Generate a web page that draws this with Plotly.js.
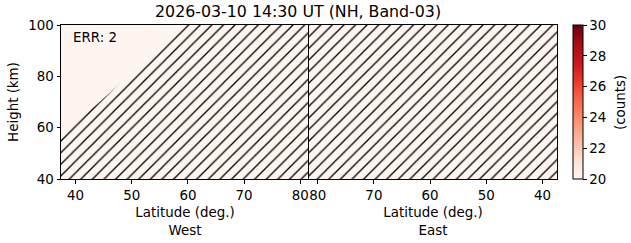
<!DOCTYPE html>
<html>
<head>
<meta charset="utf-8">
<script src="https://cdn.plot.ly/plotly-3.0.1.min.js"></script>
<style>html,body{margin:0;padding:0;background:#fff;} #plot{width:631px;height:243px;}</style>
</head>
<body>
<div id="plot"></div>
<script>
// ---- data ----
var titleText = "2026-03-10 14:30 UT (NH, Band-03)";
var latRange = [37.4, 81.55];
var heightRange = [40, 100];
var latTicks = [40, 50, 60, 70, 80];
var heightTicks = [40, 60, 80, 100];
var cbarTicks = [20, 22, 24, 26, 28, 30];
var cbarRange = [20, 30];
var cbarTitle = '(counts)';
// counts field (uniform minimum values)
var gridLat = [37.4, 81.55];
var gridHeight = [40, 100];
var westCounts = [[20, 20], [20, 20]];
var eastCounts = [[20, 20], [20, 20]];
// edge of the valid-data region in the West panel (hatched below/right)
var westEdgeLat = [37.4, 44.0, 52.0, 59.6];
var westEdgeHeight = [58.0, 69.5, 85.0, 100.0];
var errCount = 2;

var redsScale = [
  [0.0, '#fff5f0'], [0.125, '#fee0d2'], [0.25, '#fcbba1'], [0.375, '#fc9272'],
  [0.5, '#fb6a4a'], [0.625, '#ef3b2c'], [0.75, '#cb181d'], [0.875, '#a50f15'], [1.0, '#67000d']
];

// build hatched polygons
var westHatchX = [latRange[0]].concat(westEdgeLat, [latRange[1], latRange[1], latRange[0]]);
var westHatchY = [heightRange[0]].concat(westEdgeHeight, [heightRange[1], heightRange[0], heightRange[0]]);
var eastHatchX = [latRange[0], latRange[1], latRange[1], latRange[0], latRange[0]];
var eastHatchY = [heightRange[0], heightRange[0], heightRange[1], heightRange[1], heightRange[0]];

var FONT = 'DejaVu Sans, sans-serif';
var FS = 13.4;

var hatch = {shape: '/', fgcolor: 'black', fgopacity: 1, bgcolor: 'rgba(0,0,0,0)', size: 8.2, solidity: 0.16, fillmode: 'overlay'};

var traces = [
  {type: 'heatmap', x: gridLat, y: gridHeight, z: westCounts, xaxis: 'x', yaxis: 'y',
   colorscale: redsScale, zmin: cbarRange[0], zmax: cbarRange[1], hoverinfo: 'skip',
   colorbar: {x: 1.032, xanchor: 'left', xpad: 0, y: 0.5, yanchor: 'middle', len: 1, lenmode: 'fraction',
     ypad: 0, thickness: 10, outlinewidth: 1, outlinecolor: 'black',
     ticks: 'outside', ticklen: 3.5, tickwidth: 1, tickcolor: 'black',
     tickvals: cbarTicks, tickfont: {family: FONT, size: FS, color: 'black'}}},
  {type: 'heatmap', x: gridLat, y: gridHeight, z: eastCounts, xaxis: 'x2', yaxis: 'y2',
   colorscale: redsScale, zmin: cbarRange[0], zmax: cbarRange[1], showscale: false, hoverinfo: 'skip'},
  {type: 'scatter', x: westHatchX, y: westHatchY, xaxis: 'x', yaxis: 'y', mode: 'lines',
   line: {width: 0}, fill: 'toself', fillcolor: 'rgba(0,0,0,0)', fillpattern: hatch, hoverinfo: 'skip'},
  {type: 'scatter', x: eastHatchX, y: eastHatchY, xaxis: 'x2', yaxis: 'y2', mode: 'lines',
   line: {width: 0}, fill: 'toself', fillcolor: 'rgba(0,0,0,0)', fillpattern: hatch, hoverinfo: 'skip'}
];

var baseX = {
  tickvals: latTicks, ticks: 'outside', ticklen: 3.5, tickwidth: 1, tickcolor: 'black',
  showline: true, mirror: true, linecolor: 'black', linewidth: 1,
  showgrid: true, gridcolor: '#b0b0b0', gridwidth: 1, zeroline: false,
  tickfont: {family: FONT, size: FS, color: 'black'},
  title: {font: {family: FONT, size: FS, color: 'black'}, standoff: 6}
};
var xa = JSON.parse(JSON.stringify(baseX));
xa.domain = [0, 0.5]; xa.range = latRange.slice(); xa.anchor = 'y';
xa.title.text = 'Latitude (deg.)<br>West';
var xa2 = JSON.parse(JSON.stringify(baseX));
xa2.domain = [0.5, 1]; xa2.range = latRange.slice().reverse(); xa2.anchor = 'y2';
xa2.title.text = 'Latitude (deg.)<br>East';

var ya = {
  range: heightRange, tickvals: heightTicks, ticks: 'outside', ticklen: 3.5, tickwidth: 1, tickcolor: 'black',
  showline: true, mirror: true, linecolor: 'black', linewidth: 1, anchor: 'x',
  showgrid: true, gridcolor: '#b0b0b0', gridwidth: 1, zeroline: false,
  tickfont: {family: FONT, size: FS, color: 'black'},
  title: {text: 'Height (km)', font: {family: FONT, size: FS, color: 'black'}, standoff: 6}
};
var ya2 = {
  range: heightRange, tickvals: heightTicks, ticks: '', showticklabels: false,
  showline: true, mirror: true, linecolor: 'black', linewidth: 1, anchor: 'x2',
  showgrid: true, gridcolor: '#b0b0b0', gridwidth: 1, zeroline: false
};

var layout = {
  width: 631, height: 243,
  margin: {l: 61, r: 74, t: 25, b: 64, pad: 0},
  paper_bgcolor: 'white', plot_bgcolor: 'white',
  showlegend: false,
  font: {family: FONT, size: FS, color: 'black'},
  title: {text: titleText, font: {family: FONT, size: 15.8, color: 'black'},
    xref: 'paper', x: 0.478, xanchor: 'center', yref: 'container', y: 1 - 11.5 / 243, yanchor: 'middle'},
  xaxis: xa, xaxis2: xa2, yaxis: ya, yaxis2: ya2,
  annotations: [
    {text: 'ERR: ' + errCount, xref: 'paper', yref: 'paper', x: 0.02, y: 0.916,
     xanchor: 'left', yanchor: 'middle', showarrow: false, font: {family: FONT, size: FS, color: 'black'}},
    {text: cbarTitle, xref: 'paper', yref: 'paper', x: 1.127, y: 0.5, textangle: -90,
     xanchor: 'center', yanchor: 'middle', showarrow: false, font: {family: FONT, size: FS, color: 'black'}}
  ]
};

Plotly.newPlot('plot', traces, layout, {staticPlot: true, displayModeBar: false});
</script>
</body>
</html>
